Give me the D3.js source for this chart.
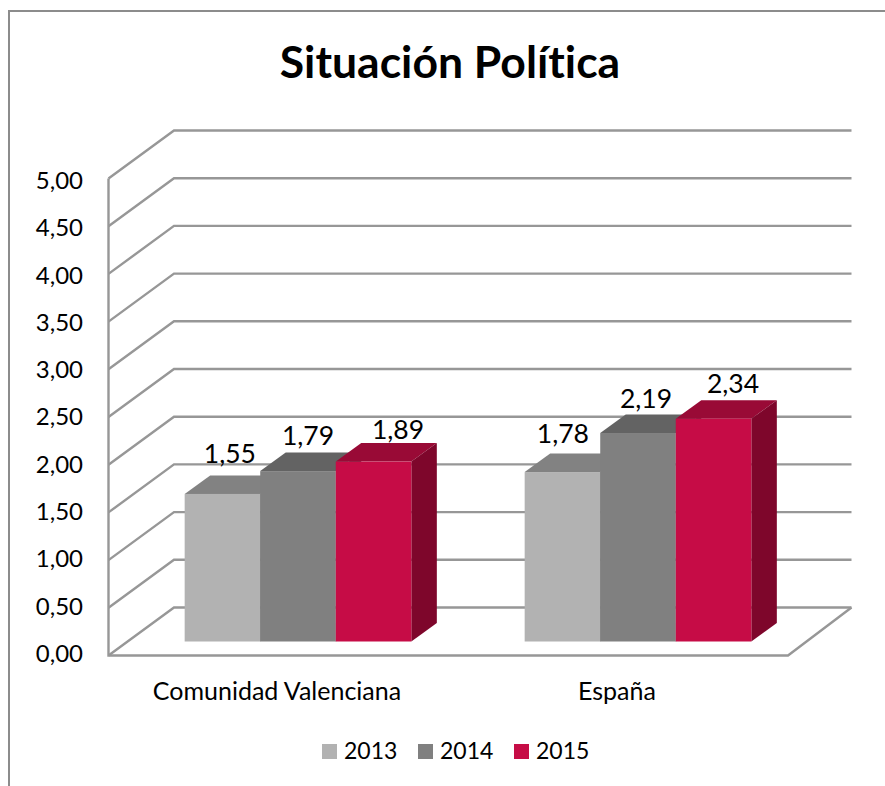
<!DOCTYPE html>
<html>
<head>
<meta charset="utf-8">
<script src="https://cdn.jsdelivr.net/npm/d3@7"></script>
<style>
  html, body { margin: 0; padding: 0; background: #fff; }
  svg { display: block; }
  text { font-family: Lato, "Open Sans", sans-serif; fill: #000; font-variant-ligatures: none; }
</style>
</head>
<body>
<div id="chart"></div>
<script>
const categories = ['Comunidad Valenciana', 'España'];
const years = ['2013', '2014', '2015'];
const va_13 = [1.55, 1.78];
const va_14 = [1.79, 2.19];
const va_15 = [1.89, 2.34];
const tick_va = [0, 0.5, 1, 1.5, 2, 2.5, 3, 3.5, 4, 4.5, 5];
const title = 'Situación Política';

const width = 885;
const height = 786;

const fr_co = { 2013: '#b2b2b2', 2014: '#808080', 2015: '#c60c46' };
const to_co = { 2013: '#828282', 2014: '#636363', 2015: '#990a36' };
const si_co = { 2013: '#6f6f6f', 2014: '#505050', 2015: '#7e062b' };
const gr_co = '#979797';

// the oblique offset of the back wall, and of the bars standing on the floor
const wa_dx = 65.5, wa_dy = 48;
const ba_dx = 19.5, ba_dy = 14;
const de_dx = 25.5, de_dy = 18.5;

const svg = d3.select('#chart')
  .append('svg')
  .attr('width', width)
  .attr('height', height)
  .attr('viewBox', `0 0 ${width} ${height}`);

const y_sc = d3.scaleLinear().domain([0, 5]).range([655.5, 178.5]);
// the tick labels sit on a slightly tighter scale than the gridlines
const y_ti = y_sc.copy().range([653, 180]);
const y_ba = y_sc.copy().range([655.5, 179.5]);
const x_ca = d3.scaleBand().domain(categories).range([108.5, 788.5]);
const x_ye = d3.scaleBand().domain(years).range([0, x_ca.bandwidth()]).paddingOuter(0.75).paddingInner(0);

const es_fo = d3.formatLocale({ decimal: ',', thousands: '.', grouping: [3], currency: ['', '€'] }).format('.2f');

// outer frame, cut by the window on the right and at the bottom
svg.append('path')
  .attr('d', `M${width},11 H9 V${height}`)
  .attr('fill', 'none')
  .attr('stroke', '#8c8c8c')
  .attr('stroke-width', 2);

svg.append('text')
  .attr('x', 450)
  .attr('y', 78)
  .attr('text-anchor', 'middle')
  .attr('font-size', 44.5)
  .attr('font-weight', 700)
  .text(title);

// walls and floor
const grid = svg.append('g')
  .attr('fill', 'none')
  .attr('stroke', gr_co)
  .attr('stroke-width', 2.4);

grid.selectAll('path.gr')
  .data(tick_va)
  .enter()
  .append('path')
  .attr('class', 'gr')
  .attr('d', d => `M${x_ca.range()[0]},${y_sc(d)} l${wa_dx},${-wa_dy} H851.5`);

grid.append('path')
  .attr('d', `M${x_ca.range()[0]},${y_sc(5)} V${y_sc(0)} H${x_ca.range()[1] - 0.5} l${63.5},${-wa_dy}`);

const y_ax = d3.axisLeft(y_ti)
  .tickValues(tick_va)
  .tickSize(0)
  .tickPadding(0)
  .tickFormat(es_fo);

svg.append('g')
  .attr('transform', 'translate(83,0)')
  .call(y_ax)
  .call(g => g.select('.domain').remove())
  .selectAll('text')
  .attr('font-size', 24)
  .attr('dy', '0.35em');

// bars
const va_by = { 2013: va_13, 2014: va_14, 2015: va_15 };
const bars = categories.flatMap((c, i) => years.map(yr => ({ cat: c, year: yr, value: va_by[yr][i] })));

const ba_gr = svg.selectAll('g.bar')
  .data(bars)
  .enter()
  .append('g')
  .attr('class', 'bar')
  .attr('transform', d => `translate(${x_ca(d.cat) + x_ye(d.year) + ba_dx},${-ba_dy})`);

const ba_wi = x_ye.bandwidth();

ba_gr.append('path')
  .attr('fill', d => to_co[d.year])
  .attr('d', d => `M0,${y_ba(d.value)} l${de_dx},${-de_dy} h${ba_wi} l${-de_dx},${de_dy} Z`);

ba_gr.append('path')
  .attr('fill', d => si_co[d.year])
  .attr('d', d => `M${ba_wi},${y_ba(d.value)} l${de_dx},${-de_dy} V${y_ba(0) - de_dy} l${-de_dx},${de_dy} Z`);

ba_gr.append('rect')
  .attr('x', 0)
  .attr('y', d => y_ba(d.value))
  .attr('width', ba_wi)
  .attr('height', d => y_ba(0) - y_ba(d.value))
  .attr('fill', d => fr_co[d.year]);

// data labels were hand placed in the original chart, so they each get a nudge
const la_dx = [7.5, 10, 24.5, 0.5, 8, 19.5];
const la_dy = [31, 26, 22.5, 29, 25, 26];

svg.selectAll('text.val')
  .data(bars)
  .enter()
  .append('text')
  .attr('class', 'val')
  .attr('x', (d, i) => x_ca(d.cat) + x_ye(d.year) + ba_dx + ba_wi / 2 + la_dx[i])
  .attr('y', (d, i) => y_ba(d.value) - ba_dy - la_dy[i])
  .attr('text-anchor', 'middle')
  .attr('font-size', 26.5)
  .text(d => es_fo(d.value));

// category labels
svg.selectAll('text.cat')
  .data(categories)
  .enter()
  .append('text')
  .attr('class', 'cat')
  .attr('x', d => x_ca(d) + x_ca.bandwidth() / 2 - 1.5)
  .attr('y', 700)
  .attr('text-anchor', 'middle')
  .attr('font-size', 25)
  .text(d => d);

// legend
const le_x = d3.scalePoint().domain(years).range([322, 514]);

const le_it = svg.selectAll('g.legend')
  .data(years)
  .enter()
  .append('g')
  .attr('class', 'legend')
  .attr('transform', d => `translate(${le_x(d)},744)`);

le_it.append('rect')
  .attr('width', 15)
  .attr('height', 15)
  .attr('fill', d => fr_co[d]);

le_it.append('text')
  .attr('x', 22)
  .attr('y', 15)
  .attr('font-size', 23)
  .text(d => d);
</script>
</body>
</html>
